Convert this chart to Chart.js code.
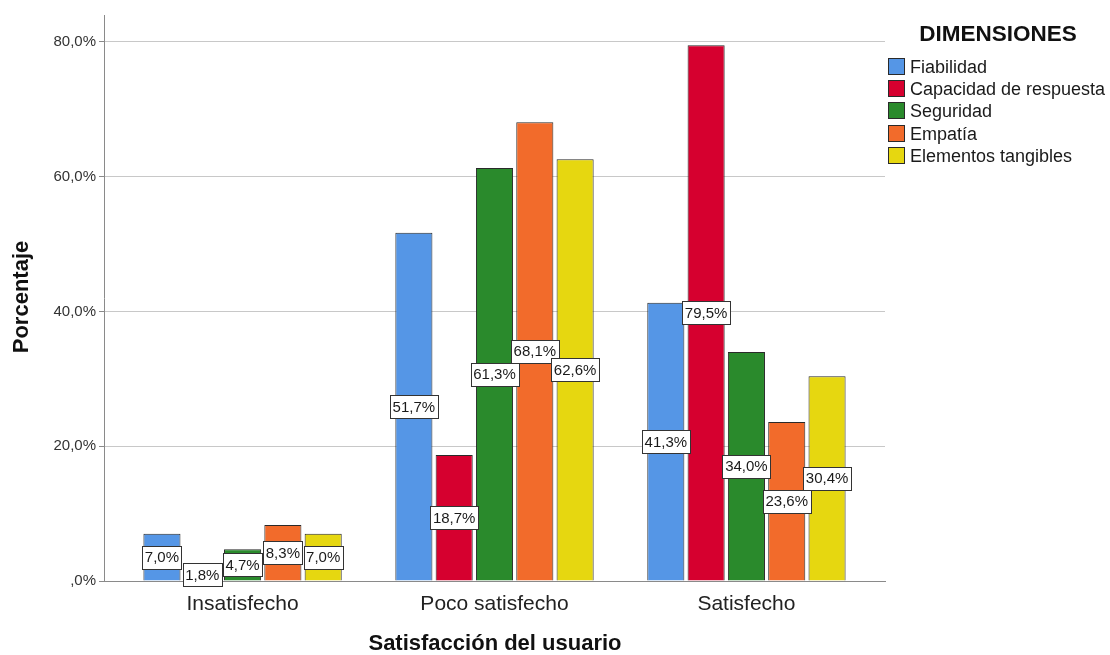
<!DOCTYPE html>
<html>
<head>
<meta charset="utf-8">
<script src="https://cdn.jsdelivr.net/npm/chart.js@4.4.1/dist/chart.umd.min.js"></script>
<style>
html,body{margin:0;padding:0;background:#fff;}
#wrap{width:1110px;height:655px;position:relative;}
</style>
</head>
<body>
<div id="wrap"><canvas id="c" width="1110" height="655"></canvas></div>
<script>
const categories = ['Insatisfecho', 'Poco satisfecho', 'Satisfecho'];
const seriesNames = ['Fiabilidad', 'Capacidad de respuesta', 'Seguridad', 'Empatía', 'Elementos tangibles'];
const fiabilidad = [7.0, 51.7, 41.3];
const capacidad = [1.8, 18.7, 79.5];
const seguridad = [4.7, 61.3, 34.0];
const empatia = [8.3, 68.1, 23.6];
const tangibles = [7.0, 62.6, 30.4];
const yTicks = [0, 20, 40, 60, 80];
const seriesColors = ['#5596e6', '#d6002f', '#2a8a2c', '#f26b2b', '#e6d710'];

const FONT = "'Liberation Sans', Arial, sans-serif";
const allSeries = [fiabilidad, capacidad, seguridad, empatia, tangibles];

function fmt(v) {
  if (v === 0) return ',0%';
  return v.toFixed(1).replace('.', ',') + '%';
}

const datasets = allSeries.map((arr, i) => ({
  label: seriesNames[i],
  data: arr.map((v, k) => ({ x: k, y: v })),
  backgroundColor: seriesColors[i],
  borderColor: '#2a2a2a',
  borderWidth: 1,
  categoryPercentage: 0.8,
  barPercentage: 0.92
}));

const overlay = {
  id: 'overlay',
  afterDatasetsDraw(chart) {
    const ctx = chart.ctx;
    ctx.save();
    ctx.font = '15px ' + FONT;
    ctx.textAlign = 'center';
    ctx.textBaseline = 'middle';
    chart.data.datasets.forEach((ds, di) => {
      const meta = chart.getDatasetMeta(di);
      meta.data.forEach((bar, k) => {
        const v = allSeries[di][k];
        const txt = fmt(v);
        const cx = bar.x;
        const cy = (bar.y + bar.base) / 2;
        const w = Math.round(ctx.measureText(txt).width + 5);
        const h = 23;
        const bx = Math.round(cx - w / 2) + 0.5;
        const by = Math.round(cy - h / 2) + 0.5;
        ctx.fillStyle = '#ffffff';
        ctx.fillRect(bx, by, w, h);
        ctx.strokeStyle = '#333333';
        ctx.lineWidth = 1;
        ctx.strokeRect(bx, by, w, h);
        ctx.fillStyle = '#1a1a1a';
        ctx.fillText(txt, cx, cy + 1);
      });
    });
    ctx.restore();
  },
  afterDraw(chart) {
    const ctx = chart.ctx;
    ctx.save();
    // axis titles
    ctx.fillStyle = '#111111';
    ctx.font = 'bold 22px ' + FONT;
    ctx.textAlign = 'center';
    ctx.textBaseline = 'middle';
    ctx.fillText('Satisfacción del usuario', 495, 644);
    ctx.save();
    ctx.translate(22, 297);
    ctx.rotate(-Math.PI / 2);
    ctx.fillText('Porcentaje', 0, 0);
    ctx.restore();
    // legend
    ctx.font = 'bold 22.5px ' + FONT;
    ctx.textAlign = 'center';
    ctx.fillText('DIMENSIONES', 998, 35);
    ctx.font = '18px ' + FONT;
    ctx.textAlign = 'left';
    const rows = [67, 89, 111, 134, 156];
    seriesNames.forEach((n, i) => {
      const y = rows[i];
      ctx.fillStyle = seriesColors[i];
      ctx.fillRect(888.5, y - 8.5, 16, 16);
      ctx.strokeStyle = '#2a2a2a';
      ctx.lineWidth = 1;
      ctx.strokeRect(888.5, y - 8.5, 16, 16);
      ctx.fillStyle = '#1a1a1a';
      ctx.fillText(n, 910, y + 1);
    });
    ctx.restore();
  }
};

new Chart(document.getElementById('c'), {
  type: 'bar',
  data: { datasets },
  options: {
    responsive: false,
    animation: false,
    devicePixelRatio: 1,
    layout: { padding: { left: 0, right: 225, top: 15, bottom: 0 } },
    plugins: { legend: { display: false }, tooltip: { enabled: false } },
    scales: {
      x: {
        type: 'linear',
        offset: false,
        min: -0.55,
        max: 2.55,
        afterBuildTicks(s) { s.ticks = categories.map((c, i) => ({ value: i })); },
        afterFit(s) { s.height = 74; },
        ticks: {
          callback: (v) => categories[v] ?? '',
          font: { family: FONT, size: 21 },
          color: '#222222',
          padding: 11,
          maxRotation: 0,
          autoSkip: false
        },
        grid: { display: false, drawTicks: false },
        border: { display: true, color: '#8a8a8a', width: 1 }
      },
      y: {
        min: 0,
        max: 84,
        afterBuildTicks(s) { s.ticks = yTicks.map(v => ({ value: v })); },
        afterFit(s) { s.width = 104; },
        ticks: {
          callback: (v) => fmt(v),
          font: { family: FONT, size: 15 },
          color: '#333333',
          padding: 3
        },
        grid: { color: '#c8c8c8', lineWidth: 1, tickLength: 5, tickColor: '#8a8a8a' },
        border: { display: true, color: '#8a8a8a', width: 1 }
      }
    }
  },
  plugins: [overlay]
});
</script>
</body>
</html>
